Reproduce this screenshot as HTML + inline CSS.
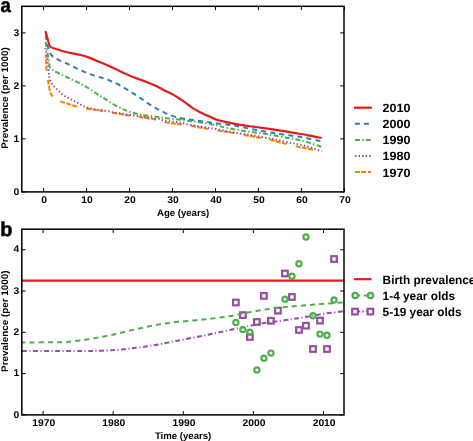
<!DOCTYPE html>
<html><head><meta charset="utf-8"><style>
html,body{margin:0;padding:0;background:#fff;overflow:hidden;width:473px;height:441px}
svg{display:block;will-change:transform}
text{font-family:"Liberation Sans",sans-serif;font-weight:bold;text-rendering:geometricPrecision}
</style></head><body>
<svg width="473" height="441" viewBox="0 0 473 441">
<rect width="473" height="441" fill="#fff"/>
<defs>
<clipPath id="ca"><rect x="21.8" y="6.3" width="322.2" height="185.6"/></clipPath>
<clipPath id="cb"><rect x="21.8" y="229.2" width="322.2" height="185.7"/></clipPath>
</defs>
<g fill="none" stroke-width="2.0" stroke-linejoin="round" clip-path="url(#ca)">
<path id="p_orange" d="M45.70,54.70 C45.75,55.25 45.92,56.67 46.00,58.00 C46.08,59.33 46.10,60.48 46.20,62.70 C46.30,64.92 46.37,68.83 46.60,71.30 C46.83,73.77 47.27,75.47 47.60,77.50 C47.93,79.53 48.28,81.53 48.60,83.50 C48.92,85.47 49.10,87.58 49.50,89.30 C49.90,91.02 50.42,92.55 51.00,93.80 C51.58,95.05 52.17,95.90 53.00,96.80 C53.83,97.70 54.73,98.43 56.00,99.20 C57.27,99.97 58.52,100.60 60.60,101.40 C62.68,102.20 65.77,103.13 68.50,104.00 C71.23,104.87 73.92,105.82 77.00,106.60 C80.08,107.38 84.10,108.17 87.00,108.70 C89.90,109.23 92.23,109.48 94.40,109.80 C96.57,110.12 98.02,110.27 100.00,110.60 C101.98,110.93 103.97,111.38 106.30,111.80 C108.63,112.22 111.42,112.70 114.00,113.10 C116.58,113.50 119.58,113.83 121.80,114.20 C124.02,114.57 124.12,114.80 127.30,115.30 C130.48,115.80 137.73,116.73 140.90,117.20 C144.07,117.67 144.03,117.75 146.30,118.10 C148.57,118.45 152.22,118.78 154.50,119.30 C156.78,119.82 157.87,120.65 160.00,121.20 C162.13,121.75 165.03,122.20 167.30,122.60 C169.57,123.00 171.48,123.32 173.60,123.60 C175.72,123.88 176.67,123.85 180.00,124.30 C183.33,124.75 190.17,125.75 193.60,126.30 C197.03,126.85 198.38,127.20 200.60,127.60 C202.82,128.00 203.93,128.20 206.90,128.70 C209.87,129.20 215.15,130.08 218.40,130.60 C221.65,131.12 224.00,131.43 226.40,131.80 C228.80,132.17 229.63,132.23 232.80,132.80 C235.97,133.37 242.02,134.57 245.40,135.20 C248.78,135.83 250.77,136.17 253.10,136.60 C255.43,137.03 256.23,137.18 259.40,137.80 C262.57,138.42 269.07,139.65 272.10,140.30 C275.13,140.95 275.62,141.18 277.60,141.70 C279.58,142.22 280.83,142.62 284.00,143.40 C287.17,144.18 293.22,145.65 296.60,146.40 C299.98,147.15 301.97,147.43 304.30,147.90 C306.63,148.37 307.72,148.58 310.60,149.20 C313.48,149.82 319.77,151.20 321.60,151.60" stroke="#ff7f00" stroke-dasharray="5 1.4 5 1.4 5 8.86" stroke-dashoffset="1.52"/>
<path id="p_purple" d="M45.20,48.00 C45.35,48.60 45.80,50.27 46.10,51.60 C46.40,52.93 46.72,54.27 47.00,56.00 C47.28,57.73 47.58,60.25 47.80,62.00 C48.02,63.75 48.12,64.63 48.30,66.50 C48.48,68.37 48.73,71.48 48.90,73.20 C49.07,74.92 49.08,75.60 49.30,76.80 C49.52,78.00 49.75,79.23 50.20,80.40 C50.65,81.57 51.33,82.77 52.00,83.80 C52.67,84.83 53.38,85.70 54.20,86.60 C55.02,87.50 56.02,88.32 56.90,89.20 C57.78,90.08 58.62,91.05 59.50,91.90 C60.38,92.75 61.23,93.55 62.20,94.30 C63.17,95.05 64.25,95.75 65.30,96.40 C66.35,97.05 67.43,97.63 68.50,98.20 C69.57,98.77 70.65,99.27 71.70,99.80 C72.75,100.33 73.75,100.87 74.80,101.40 C75.85,101.93 76.93,102.42 78.00,103.00 C79.07,103.58 80.13,104.32 81.20,104.90 C82.27,105.48 83.25,106.03 84.40,106.50 C85.55,106.97 86.78,107.32 88.10,107.70 C89.42,108.08 90.90,108.50 92.30,108.80 C93.70,109.10 95.22,109.32 96.50,109.50 C97.78,109.68 98.37,109.65 100.00,109.90 C101.63,110.15 104.18,110.62 106.30,111.00 C108.42,111.38 110.58,111.82 112.70,112.20 C114.82,112.58 116.88,112.95 119.00,113.30 C121.12,113.65 123.28,114.00 125.40,114.30 C127.52,114.60 129.60,114.82 131.70,115.10 C133.80,115.38 135.88,115.70 138.00,116.00 C140.12,116.30 142.28,116.63 144.40,116.90 C146.52,117.17 148.37,117.32 150.70,117.60 C153.03,117.88 156.25,118.13 158.40,118.60 C160.55,119.07 161.52,119.93 163.60,120.40 C165.68,120.87 168.48,121.07 170.90,121.40 C173.32,121.73 175.68,122.00 178.10,122.40 C180.52,122.80 182.52,123.25 185.40,123.80 C188.28,124.35 192.13,125.12 195.40,125.70 C198.67,126.28 202.45,126.88 205.00,127.30 C207.55,127.72 208.47,127.87 210.70,128.20 C212.93,128.53 215.57,128.75 218.40,129.30 C221.23,129.85 224.03,130.80 227.70,131.50 C231.37,132.20 236.17,132.85 240.40,133.50 C244.63,134.15 248.88,134.68 253.10,135.40 C257.32,136.12 262.12,137.17 265.70,137.80 C269.28,138.43 271.35,138.53 274.60,139.20 C277.85,139.87 281.73,141.05 285.20,141.80 C288.67,142.55 292.02,143.00 295.40,143.70 C298.78,144.40 301.70,144.92 305.50,146.00 C309.30,147.08 315.52,149.33 318.20,150.20 C320.88,151.07 321.03,151.03 321.60,151.20" stroke="#984ea3" stroke-dasharray="1.4 2.216" stroke-dashoffset="0.2"/>
<path id="p_green" d="M45.70,42.00 C45.85,43.00 46.28,46.00 46.60,48.00 C46.92,50.00 47.28,52.17 47.60,54.00 C47.92,55.83 48.23,57.33 48.50,59.00 C48.77,60.67 48.95,62.53 49.20,64.00 C49.45,65.47 49.45,66.83 50.00,67.80 C50.55,68.77 51.25,69.00 52.50,69.80 C53.75,70.60 55.87,71.73 57.50,72.60 C59.13,73.47 60.63,74.18 62.30,75.00 C63.97,75.82 65.83,76.70 67.50,77.50 C69.17,78.30 70.38,78.92 72.30,79.80 C74.22,80.68 77.37,81.98 79.00,82.80 C80.63,83.62 80.73,83.92 82.10,84.70 C83.47,85.48 85.62,86.55 87.20,87.50 C88.78,88.45 90.07,89.40 91.60,90.40 C93.13,91.40 94.87,92.50 96.40,93.50 C97.93,94.50 99.32,95.47 100.80,96.40 C102.28,97.33 103.25,97.82 105.30,99.10 C107.35,100.38 110.32,102.50 113.10,104.10 C115.88,105.70 119.45,107.50 122.00,108.70 C124.55,109.90 126.28,110.55 128.40,111.30 C130.52,112.05 132.63,112.62 134.70,113.20 C136.77,113.78 138.72,114.37 140.80,114.80 C142.88,115.23 144.58,115.47 147.20,115.80 C149.82,116.13 154.03,116.53 156.50,116.80 C158.97,117.07 159.73,117.10 162.00,117.40 C164.27,117.70 167.27,118.23 170.10,118.60 C172.93,118.97 175.85,119.20 179.00,119.60 C182.15,120.00 185.67,120.57 189.00,121.00 C192.33,121.43 195.38,121.67 199.00,122.20 C202.62,122.73 207.47,123.65 210.70,124.20 C213.93,124.75 216.42,125.05 218.40,125.50 C220.38,125.95 220.20,126.32 222.60,126.90 C225.00,127.48 229.42,128.37 232.80,129.00 C236.18,129.63 239.52,130.17 242.90,130.70 C246.28,131.23 249.50,131.68 253.10,132.20 C256.70,132.72 261.12,133.28 264.50,133.80 C267.88,134.32 269.73,134.65 273.40,135.30 C277.07,135.95 282.42,136.97 286.50,137.70 C290.58,138.43 294.30,138.92 297.90,139.70 C301.50,140.48 304.72,141.38 308.10,142.40 C311.48,143.42 315.95,145.07 318.20,145.80 C320.45,146.53 321.03,146.63 321.60,146.80" stroke="#4daf4a" stroke-dasharray="5 2.3 1.4 2.29" stroke-dashoffset="0.26"/>
<path id="p_blue" d="M45.70,35.30 C45.85,36.17 46.28,38.80 46.60,40.50 C46.92,42.20 47.25,44.00 47.60,45.50 C47.95,47.00 48.10,47.95 48.70,49.50 C49.30,51.05 50.15,53.40 51.20,54.80 C52.25,56.20 53.68,57.00 55.00,57.90 C56.32,58.80 57.10,59.25 59.10,60.20 C61.10,61.15 64.35,62.37 67.00,63.60 C69.65,64.83 72.30,66.30 75.00,67.60 C77.70,68.90 80.48,70.23 83.20,71.40 C85.92,72.57 88.35,73.58 91.30,74.60 C94.25,75.62 97.95,76.57 100.90,77.50 C103.85,78.43 106.28,79.13 109.00,80.20 C111.72,81.27 114.38,82.47 117.20,83.90 C120.02,85.33 123.17,87.18 125.90,88.80 C128.63,90.42 131.03,91.97 133.60,93.60 C136.17,95.23 138.77,96.88 141.30,98.60 C143.83,100.32 146.23,102.23 148.80,103.90 C151.37,105.57 154.08,107.15 156.70,108.60 C159.32,110.05 161.75,111.35 164.50,112.60 C167.25,113.85 170.25,115.13 173.20,116.10 C176.15,117.07 179.27,117.78 182.20,118.40 C185.13,119.02 187.95,119.35 190.80,119.80 C193.65,120.25 196.30,120.68 199.30,121.10 C202.30,121.52 205.75,121.92 208.80,122.30 C211.85,122.68 214.45,123.00 217.60,123.40 C220.75,123.80 224.53,124.27 227.70,124.70 C230.87,125.13 233.65,125.48 236.60,126.00 C239.55,126.52 242.45,127.20 245.40,127.80 C248.35,128.40 251.33,129.02 254.30,129.60 C257.27,130.18 260.13,130.77 263.20,131.30 C266.27,131.83 269.88,132.33 272.70,132.80 C275.52,133.27 277.17,133.65 280.10,134.10 C283.03,134.55 287.12,135.05 290.30,135.50 C293.48,135.95 296.23,136.32 299.20,136.80 C302.17,137.28 305.03,137.80 308.10,138.40 C311.17,139.00 315.35,139.95 317.60,140.40 C319.85,140.85 320.93,140.98 321.60,141.10" stroke="#377eb8" stroke-dasharray="5.1 4.052" stroke-dashoffset="0.23"/>
<path d="M45.40,31.00 C45.77,32.30 46.90,36.37 47.60,38.80 C48.30,41.23 48.95,44.17 49.60,45.60 C50.25,47.03 50.42,46.83 51.50,47.40 C52.58,47.97 53.82,48.27 56.10,49.00 C58.38,49.73 62.05,50.98 65.20,51.80 C68.35,52.62 72.23,53.32 75.00,53.90 C77.77,54.48 79.53,54.72 81.80,55.30 C84.07,55.88 86.33,56.58 88.60,57.40 C90.87,58.22 93.13,59.25 95.40,60.20 C97.67,61.15 99.93,62.15 102.20,63.10 C104.47,64.05 106.73,64.90 109.00,65.90 C111.27,66.90 113.53,68.02 115.80,69.10 C118.07,70.18 120.33,71.32 122.60,72.40 C124.87,73.48 127.03,74.60 129.40,75.60 C131.77,76.60 134.43,77.52 136.80,78.40 C139.17,79.28 141.33,80.05 143.60,80.90 C145.87,81.75 148.13,82.55 150.40,83.50 C152.67,84.45 154.93,85.48 157.20,86.60 C159.47,87.72 161.27,88.82 164.00,90.20 C166.73,91.58 170.93,93.47 173.60,94.90 C176.27,96.33 177.88,97.40 180.00,98.80 C182.12,100.20 184.18,101.73 186.30,103.30 C188.42,104.87 190.42,106.72 192.70,108.20 C194.98,109.68 197.00,110.72 200.00,112.20 C203.00,113.68 207.63,115.77 210.70,117.10 C213.77,118.43 215.57,119.32 218.40,120.20 C221.23,121.08 224.03,121.62 227.70,122.40 C231.37,123.18 236.17,124.18 240.40,124.90 C244.63,125.62 248.88,126.12 253.10,126.70 C257.32,127.28 262.12,127.90 265.70,128.40 C269.28,128.90 271.77,129.28 274.60,129.70 C277.43,130.12 279.23,130.33 282.70,130.90 C286.17,131.47 291.17,132.37 295.40,133.10 C299.63,133.83 303.73,134.48 308.10,135.30 C312.47,136.12 319.35,137.55 321.60,138.00" stroke="#e41a1c" stroke-width="2.2"/>
</g>
<g fill="none" stroke-width="2.0" clip-path="url(#cb)">
<line x1="21.8" y1="280.6" x2="344.0" y2="280.6" stroke="#e41a1c" stroke-width="2.2"/>
<path id="p_bpurple" d="M21.80,351.10 C28.17,351.10 49.40,351.12 60.00,351.10 C70.60,351.08 79.07,351.05 85.40,351.00 C91.73,350.95 93.78,350.92 98.00,350.80 C102.22,350.68 107.30,350.45 110.70,350.30 C114.10,350.15 115.85,350.12 118.40,349.90 C120.95,349.68 123.40,349.30 126.00,349.00 C128.60,348.70 130.77,348.50 134.00,348.10 C137.23,347.70 141.82,347.12 145.40,346.60 C148.98,346.08 152.12,345.58 155.50,345.00 C158.88,344.42 162.23,343.78 165.70,343.10 C169.17,342.42 172.63,341.63 176.30,340.90 C179.97,340.17 183.90,339.42 187.70,338.70 C191.50,337.98 195.50,337.30 199.10,336.60 C202.70,335.90 205.92,335.22 209.30,334.50 C212.68,333.78 215.82,333.08 219.40,332.30 C222.98,331.52 227.37,330.55 230.80,329.80 C234.23,329.05 237.33,328.37 240.00,327.80 C242.67,327.23 243.85,326.98 246.80,326.40 C249.75,325.82 254.75,324.85 257.70,324.30 C260.65,323.75 261.85,323.52 264.50,323.10 C267.15,322.68 270.57,322.23 273.60,321.80 C276.63,321.37 279.68,320.93 282.70,320.50 C285.72,320.07 289.13,319.57 291.70,319.20 C294.27,318.83 295.22,318.77 298.10,318.30 C300.98,317.83 304.77,317.15 309.00,316.40 C313.23,315.65 317.67,314.67 323.50,313.80 C329.33,312.93 340.58,311.63 344.00,311.20" stroke="#984ea3" stroke-dasharray="4.9 2.5 1.1 2.5" stroke-dashoffset="10.7"/>
<g stroke="#984ea3" stroke-width="2.2"><rect x="233.07" y="299.70" width="5.6" height="5.6"/>
<rect x="240.08" y="312.30" width="5.6" height="5.6"/>
<rect x="247.09" y="334.20" width="5.6" height="5.6"/>
<rect x="254.11" y="319.20" width="5.6" height="5.6"/>
<rect x="261.12" y="293.10" width="5.6" height="5.6"/>
<rect x="268.12" y="318.00" width="5.6" height="5.6"/>
<rect x="275.13" y="307.80" width="5.6" height="5.6"/>
<rect x="282.14" y="270.70" width="5.6" height="5.6"/>
<rect x="289.15" y="294.20" width="5.6" height="5.6"/>
<rect x="296.16" y="327.20" width="5.6" height="5.6"/>
<rect x="303.18" y="322.90" width="5.6" height="5.6"/>
<rect x="310.19" y="346.20" width="5.6" height="5.6"/>
<rect x="317.19" y="317.80" width="5.6" height="5.6"/>
<rect x="324.20" y="346.20" width="5.6" height="5.6"/>
<rect x="331.21" y="256.20" width="5.6" height="5.6"/></g>
<path id="p_bgreen" d="M21.80,342.50 C28.17,342.45 52.27,342.33 60.00,342.20 C67.73,342.07 65.23,341.93 68.20,341.70 C71.17,341.47 74.73,341.15 77.80,340.80 C80.87,340.45 83.65,340.05 86.60,339.60 C89.55,339.15 92.53,338.63 95.50,338.10 C98.47,337.57 101.33,337.00 104.40,336.40 C107.47,335.80 110.97,335.15 113.90,334.50 C116.83,333.85 119.08,333.20 122.00,332.50 C124.92,331.80 128.35,331.00 131.40,330.30 C134.45,329.60 137.33,328.97 140.30,328.30 C143.27,327.63 146.23,326.92 149.20,326.30 C152.17,325.68 155.15,325.12 158.10,324.60 C161.05,324.08 163.95,323.62 166.90,323.20 C169.85,322.78 172.77,322.43 175.80,322.10 C178.83,321.77 182.07,321.48 185.10,321.20 C188.13,320.92 191.03,320.67 194.00,320.40 C196.97,320.13 199.93,319.90 202.90,319.60 C205.87,319.30 208.62,319.00 211.80,318.60 C214.98,318.20 218.83,317.65 222.00,317.20 C225.17,316.75 228.03,316.37 230.80,315.90 C233.57,315.43 235.72,314.97 238.60,314.40 C241.48,313.83 244.92,313.10 248.10,312.50 C251.28,311.90 254.50,311.35 257.70,310.80 C260.90,310.25 264.20,309.65 267.30,309.20 C270.40,308.75 273.28,308.45 276.30,308.10 C279.32,307.75 282.37,307.42 285.40,307.10 C288.43,306.78 290.57,306.55 294.50,306.20 C298.43,305.85 304.17,305.40 309.00,305.00 C313.83,304.60 317.67,304.23 323.50,303.80 C329.33,303.37 340.58,302.63 344.00,302.40" stroke="#4daf4a" stroke-dasharray="5.1 4.05" stroke-dashoffset="1.45"/>
<g stroke="#4daf4a" stroke-width="2.2"><circle cx="235.88" cy="322.40" r="2.6"/>
<circle cx="242.88" cy="329.60" r="2.6"/>
<circle cx="249.89" cy="332.20" r="2.6"/>
<circle cx="256.91" cy="369.90" r="2.6"/>
<circle cx="263.92" cy="358.30" r="2.6"/>
<circle cx="270.93" cy="353.10" r="2.6"/>
<circle cx="284.94" cy="299.30" r="2.6"/>
<circle cx="291.95" cy="276.20" r="2.6"/>
<circle cx="298.96" cy="263.80" r="2.6"/>
<circle cx="305.98" cy="237.00" r="2.6"/>
<circle cx="312.99" cy="315.70" r="2.6"/>
<circle cx="320.00" cy="334.10" r="2.6"/>
<circle cx="327.00" cy="335.20" r="2.6"/>
<circle cx="334.01" cy="300.00" r="2.6"/></g>
</g>
<g stroke="#000" stroke-width="1.0">
<line x1="43.60" y1="191.9" x2="43.60" y2="188.1"/>
<line x1="43.60" y1="6.3" x2="43.60" y2="10.1"/>
<line x1="86.57" y1="191.9" x2="86.57" y2="188.1"/>
<line x1="86.57" y1="6.3" x2="86.57" y2="10.1"/>
<line x1="129.54" y1="191.9" x2="129.54" y2="188.1"/>
<line x1="129.54" y1="6.3" x2="129.54" y2="10.1"/>
<line x1="172.51" y1="191.9" x2="172.51" y2="188.1"/>
<line x1="172.51" y1="6.3" x2="172.51" y2="10.1"/>
<line x1="215.48" y1="191.9" x2="215.48" y2="188.1"/>
<line x1="215.48" y1="6.3" x2="215.48" y2="10.1"/>
<line x1="258.45" y1="191.9" x2="258.45" y2="188.1"/>
<line x1="258.45" y1="6.3" x2="258.45" y2="10.1"/>
<line x1="301.42" y1="191.9" x2="301.42" y2="188.1"/>
<line x1="301.42" y1="6.3" x2="301.42" y2="10.1"/>
<line x1="344.39" y1="191.9" x2="344.39" y2="188.1"/>
<line x1="344.39" y1="6.3" x2="344.39" y2="10.1"/>
<line x1="21.8" y1="191.90" x2="25.6" y2="191.90"/>
<line x1="344.0" y1="191.90" x2="340.2" y2="191.90"/>
<line x1="21.8" y1="138.90" x2="25.6" y2="138.90"/>
<line x1="344.0" y1="138.90" x2="340.2" y2="138.90"/>
<line x1="21.8" y1="85.90" x2="25.6" y2="85.90"/>
<line x1="344.0" y1="85.90" x2="340.2" y2="85.90"/>
<line x1="21.8" y1="32.90" x2="25.6" y2="32.90"/>
<line x1="344.0" y1="32.90" x2="340.2" y2="32.90"/>
<line x1="43.10" y1="414.9" x2="43.10" y2="411.09999999999997"/>
<line x1="43.10" y1="229.2" x2="43.10" y2="233.0"/>
<line x1="113.20" y1="414.9" x2="113.20" y2="411.09999999999997"/>
<line x1="113.20" y1="229.2" x2="113.20" y2="233.0"/>
<line x1="183.30" y1="414.9" x2="183.30" y2="411.09999999999997"/>
<line x1="183.30" y1="229.2" x2="183.30" y2="233.0"/>
<line x1="253.40" y1="414.9" x2="253.40" y2="411.09999999999997"/>
<line x1="253.40" y1="229.2" x2="253.40" y2="233.0"/>
<line x1="323.50" y1="414.9" x2="323.50" y2="411.09999999999997"/>
<line x1="323.50" y1="229.2" x2="323.50" y2="233.0"/>
<line x1="21.8" y1="414.90" x2="25.6" y2="414.90"/>
<line x1="344.0" y1="414.90" x2="340.2" y2="414.90"/>
<line x1="21.8" y1="373.60" x2="25.6" y2="373.60"/>
<line x1="344.0" y1="373.60" x2="340.2" y2="373.60"/>
<line x1="21.8" y1="332.30" x2="25.6" y2="332.30"/>
<line x1="344.0" y1="332.30" x2="340.2" y2="332.30"/>
<line x1="21.8" y1="291.00" x2="25.6" y2="291.00"/>
<line x1="344.0" y1="291.00" x2="340.2" y2="291.00"/>
<line x1="21.8" y1="249.70" x2="25.6" y2="249.70"/>
<line x1="344.0" y1="249.70" x2="340.2" y2="249.70"/>
</g>
<g fill="none" stroke="#000" stroke-width="1.5">
<rect x="21.8" y="6.3" width="322.2" height="185.6"/>
<rect x="21.8" y="229.2" width="322.2" height="185.7"/>
</g>
<g font-family="Liberation Sans" font-weight="bold" font-size="9.8" fill="#000">
<text transform="translate(44.10,203.0) scale(1.05,1)" text-anchor="middle">0</text>
<text transform="translate(87.07,203.0) scale(1.05,1)" text-anchor="middle">10</text>
<text transform="translate(130.04,203.0) scale(1.05,1)" text-anchor="middle">20</text>
<text transform="translate(173.01,203.0) scale(1.05,1)" text-anchor="middle">30</text>
<text transform="translate(215.98,203.0) scale(1.05,1)" text-anchor="middle">40</text>
<text transform="translate(258.95,203.0) scale(1.05,1)" text-anchor="middle">50</text>
<text transform="translate(301.92,203.0) scale(1.05,1)" text-anchor="middle">60</text>
<text transform="translate(344.89,203.0) scale(1.05,1)" text-anchor="middle">70</text>
<text transform="translate(19.2,194.50) scale(1.05,1)" text-anchor="end">0</text>
<text transform="translate(19.2,141.50) scale(1.05,1)" text-anchor="end">1</text>
<text transform="translate(19.2,88.50) scale(1.05,1)" text-anchor="end">2</text>
<text transform="translate(19.2,35.50) scale(1.05,1)" text-anchor="end">3</text>
<text transform="translate(43.70,425.7) scale(1.05,1)" text-anchor="middle">1970</text>
<text transform="translate(113.80,425.7) scale(1.05,1)" text-anchor="middle">1980</text>
<text transform="translate(183.90,425.7) scale(1.05,1)" text-anchor="middle">1990</text>
<text transform="translate(254.00,425.7) scale(1.05,1)" text-anchor="middle">2000</text>
<text transform="translate(324.10,425.7) scale(1.05,1)" text-anchor="middle">2010</text>
<text transform="translate(19.2,417.50) scale(1.05,1)" text-anchor="end">0</text>
<text transform="translate(19.2,376.20) scale(1.05,1)" text-anchor="end">1</text>
<text transform="translate(19.2,334.90) scale(1.05,1)" text-anchor="end">2</text>
<text transform="translate(19.2,293.60) scale(1.05,1)" text-anchor="end">3</text>
<text transform="translate(19.2,252.30) scale(1.05,1)" text-anchor="end">4</text>
</g>
<g font-family="Liberation Sans" font-weight="bold" font-size="9.6" fill="#000">
<text x="183.1" y="216.0" text-anchor="middle">Age (years)</text>
<text x="183.1" y="438.8" text-anchor="middle">Time (years)</text>
<text transform="translate(8.0,98.0) rotate(-90) scale(1.028,1)" text-anchor="middle">Prevalence (per 1000)</text>
<text transform="translate(8.0,321.2) rotate(-90) scale(1.028,1)" text-anchor="middle">Prevalence (per 1000)</text>
</g>
<g font-family="Liberation Sans" font-weight="bold" font-size="20" fill="#000" stroke="#000" stroke-width="0.5">
<text transform="translate(0.6,11.8) scale(0.93,1)">a</text>
<text x="0.2" y="236.3">b</text>
</g>
<!-- legend a -->
<g fill="none" stroke-width="2.0">
<line x1="354.0" y1="107.7" x2="371.8" y2="107.7" stroke="#e41a1c" stroke-width="2.2"/>
<line x1="354.9" y1="123.8" x2="371.8" y2="123.8" stroke="#377eb8" stroke-dasharray="5 4"/>
<line x1="354.9" y1="139.9" x2="371.8" y2="139.9" stroke="#4daf4a" stroke-dasharray="5 2.3 1.4 2.2"/>
<line x1="354.9" y1="156.0" x2="371.8" y2="156.0" stroke="#984ea3" stroke-dasharray="1.5 2.1"/>
<line x1="354.9" y1="172.1" x2="370.9" y2="172.1" stroke="#ff7f00" stroke-dasharray="5.1 1.1 5.1 1.7 5 8"/>
</g>
<g font-family="Liberation Sans" font-weight="bold" font-size="12" fill="#000">
<text transform="translate(382.6,111.7) scale(1.05,1)">2010</text>
<text transform="translate(382.6,127.9) scale(1.05,1)">2000</text>
<text transform="translate(382.6,144.1) scale(1.05,1)">1990</text>
<text transform="translate(382.6,160.3) scale(1.05,1)">1980</text>
<text transform="translate(382.6,176.5) scale(1.05,1)">1970</text>
</g>
<!-- legend b -->
<g fill="none" stroke-width="2.0">
<line x1="354.0" y1="279.2" x2="371.6" y2="279.2" stroke="#e41a1c" stroke-width="2.2"/>
<path d="M357.5,295.5 H360.2 M364.0,295.5 H368" stroke="#4daf4a"/>
<circle cx="355.2" cy="295.5" r="2.65" stroke="#4daf4a" stroke-width="2.3"/>
<circle cx="370.5" cy="295.5" r="2.65" stroke="#4daf4a" stroke-width="2.3"/>
<path d="M357.5,311.6 H360.2 M362.2,311.6 H363.6 M365.9,311.6 H368" stroke="#984ea3"/>
<rect x="352.2" y="308.8" width="5.6" height="5.6" stroke="#984ea3" stroke-width="2.2"/>
<rect x="367.6" y="308.8" width="5.6" height="5.6" stroke="#984ea3" stroke-width="2.2"/>
</g>
<g font-family="Liberation Sans" font-weight="bold" font-size="12" fill="#000">
<text transform="translate(382.6,283.5) scale(0.987,1)">Birth prevalence</text>
<text transform="translate(382.6,299.7) scale(0.987,1)">1-4 year olds</text>
<text transform="translate(382.6,315.9) scale(0.987,1)">5-19 year olds</text>
</g>
</svg>
</body></html>
